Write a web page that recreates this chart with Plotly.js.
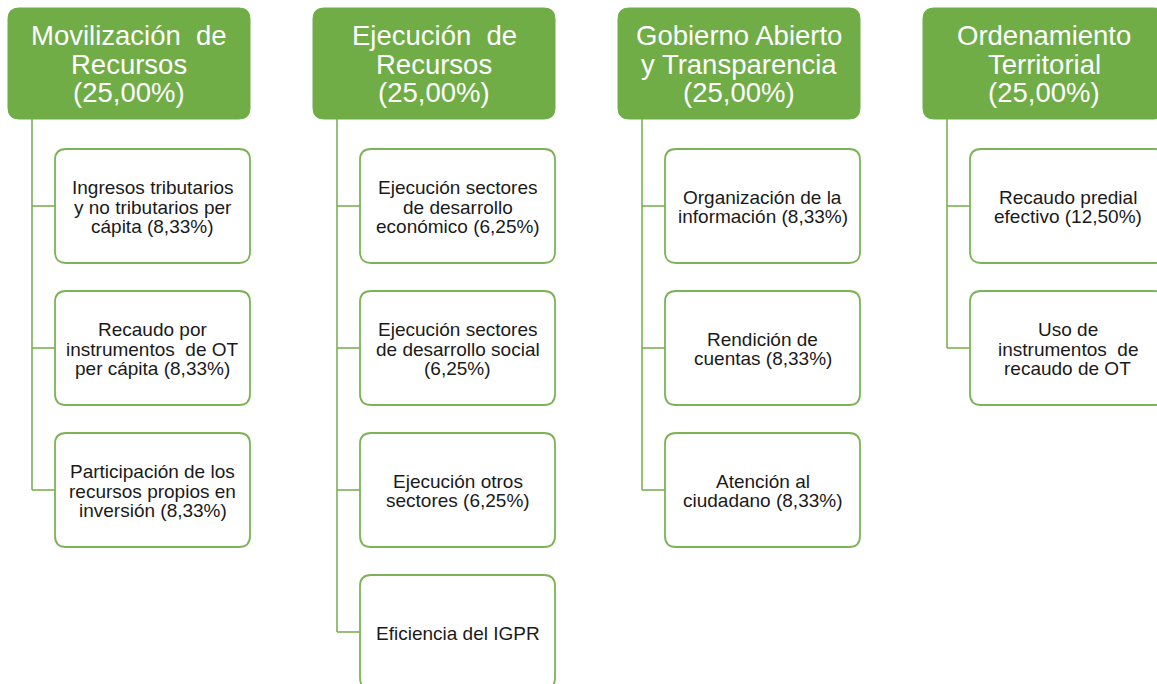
<!DOCTYPE html>
<html>
<head>
<meta charset="utf-8">
<script src="https://cdn.plot.ly/plotly-3.0.1.min.js"></script>
<style>html,body{margin:0;padding:0;background:#fff;}#chart{width:1157px;height:684px;}</style>
</head>
<body>
<div id="chart"></div>
<script>
// ---- data ----
const categories = [
  ["Movilización  de", "Recursos"],
  ["Ejecución  de", "Recursos"],
  ["Gobierno Abierto", "y Transparencia"],
  ["Ordenamiento", "Territorial"]
];
const categoryWeights = ["(25,00%)", "(25,00%)", "(25,00%)", "(25,00%)"];
const itemsMovilizacion = [
  ["Ingresos tributarios", "y no tributarios per", "cápita (8,33%)"],
  ["Recaudo por", "instrumentos  de OT", "per cápita (8,33%)"],
  ["Participación de los", "recursos propios en", "inversión (8,33%)"]
];
const itemsEjecucion = [
  ["Ejecución sectores", "de desarrollo", "económico (6,25%)"],
  ["Ejecución sectores", "de desarrollo social", "(6,25%)"],
  ["Ejecución otros", "sectores (6,25%)"],
  ["Eficiencia del IGPR"]
];
const itemsGobierno = [
  ["Organización de la", "información (8,33%)"],
  ["Rendición de", "cuentas (8,33%)"],
  ["Atención al", "ciudadano (8,33%)"]
];
const itemsOrdenamiento = [
  ["Recaudo predial", "efectivo (12,50%)"],
  ["Uso de", "instrumentos  de", "recaudo de OT"]
];
const childItems = [itemsMovilizacion, itemsEjecucion, itemsGobierno, itemsOrdenamiento];

// ---- layout constants ----
const GREEN = "#70AD47";
const colStart = 8, colStep = 305;
const headW = 242, headTop = 8, headH = 111;
const childOff = 47, childW = 195, childTop = 149, childH = 114, childStep = 142;
const lineOff = 24;
const headFont = 27.5, headLH = 28.5;
const childFont = 19, childLH = 19.5;

function roundRect(x0, y0, x1, y1, r) {
  return `M${x0+r},${y0} L${x1-r},${y0} Q${x1},${y0} ${x1},${y0+r} L${x1},${y1-r} Q${x1},${y1} ${x1-r},${y1} L${x0+r},${y1} Q${x0},${y1} ${x0},${y1-r} L${x0},${y0+r} Q${x0},${y0} ${x0+r},${y0} Z`;
}

const shapes = [];
const annotations = [];

function addLines(lines, cx, cy, lh, size, color) {
  const n = lines.length;
  lines.forEach((t, i) => {
    annotations.push({
      x: cx, y: cy + (i - (n - 1) / 2) * lh, xref: "x", yref: "y",
      text: t.replace(/  /g, " &nbsp;"), showarrow: false, xanchor: "center", yanchor: "middle",
      font: {family: "Liberation Sans, Arial, sans-serif", size: size, color: color}
    });
  });
}

categories.forEach((cat, c) => {
  const hx0 = colStart + c * colStep, hx1 = hx0 + headW;
  shapes.push({type: "path", xref: "x", yref: "y",
    path: roundRect(hx0, headTop, hx1, headTop + headH, 11),
    fillcolor: GREEN, line: {color: GREEN, width: 1}, layer: "below"});
  addLines(cat.concat([categoryWeights[c]]), (hx0 + hx1) / 2, headTop + headH / 2 + 0.5, headLH, headFont, "#ffffff");

  const items = childItems[c];
  const lx = hx0 + lineOff;
  const cx0 = hx0 + childOff, cx1 = cx0 + childW;
  const lastCy = childTop + (items.length - 1) * childStep + childH / 2;
  shapes.push({type: "line", xref: "x", yref: "y", x0: lx, x1: lx, y0: headTop + headH, y1: lastCy,
    line: {color: GREEN, width: 1.5}});
  items.forEach((lines, i) => {
    const y0 = childTop + i * childStep, y1 = y0 + childH;
    const cy = (y0 + y1) / 2;
    shapes.push({type: "line", xref: "x", yref: "y", x0: lx, x1: cx0, y0: cy, y1: cy,
      line: {color: GREEN, width: 1.5}});
    shapes.push({type: "path", xref: "x", yref: "y",
      path: roundRect(cx0, y0, cx1, y1, 11),
      fillcolor: "#ffffff", line: {color: "#7DB356", width: 1.8}});
    addLines(lines, (cx0 + cx1) / 2, cy + 1, childLH, childFont, "#1a1a1a");
  });
});

const layout = {
  width: 1157, height: 684,
  margin: {l: 0, r: 0, t: 0, b: 0},
  paper_bgcolor: "#ffffff", plot_bgcolor: "#ffffff",
  xaxis: {range: [0, 1157], visible: false, fixedrange: true},
  yaxis: {range: [684, 0], visible: false, fixedrange: true},
  shapes: shapes, annotations: annotations, showlegend: false
};
Plotly.newPlot("chart", [{x: [], y: [], type: "scatter", mode: "markers", hoverinfo: "skip"}], layout, {staticPlot: true});
</script>
</body>
</html>
